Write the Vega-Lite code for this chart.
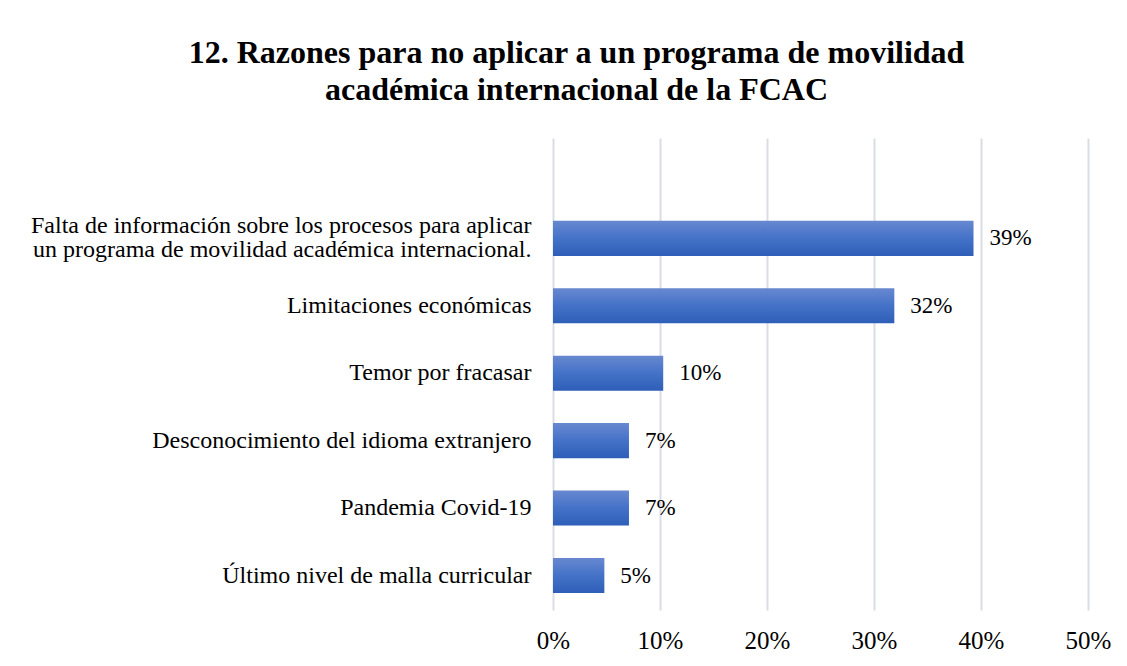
{
  "$schema": "https://vega.github.io/schema/vega-lite/v6.json",
  "autosize": "none",
  "width": 535,
  "height": 472,
  "padding": {"left": 553, "top": 138, "right": 39, "bottom": 56},
  "background": "white",
  "config": {"font": "Liberation Serif", "view": {"stroke": null}},
  "title": {
    "text": ["12. Razones para no aplicar a un programa de movilidad", "académica internacional de la FCAC"],
    "font": "Liberation Serif",
    "fontSize": 32,
    "fontWeight": "bold",
    "lineHeight": 37,
    "color": "#000000",
    "anchor": "middle",
    "frame": "group",
    "dx": -244,
    "offset": 31
  },
  "data": {
    "values": [
      {"razon": "Falta de información sobre los procesos para aplicar|un programa de movilidad académica internacional.", "pct": 0.393},
      {"razon": "Limitaciones económicas", "pct": 0.319},
      {"razon": "Temor por fracasar", "pct": 0.103},
      {"razon": "Desconocimiento del idioma extranjero", "pct": 0.071},
      {"razon": "Pandemia Covid-19", "pct": 0.071},
      {"razon": "Último nivel de malla curricular", "pct": 0.048}
    ]
  },
  "encoding": {
    "y": {
      "field": "razon",
      "type": "nominal",
      "sort": null,
      "title": null,
      "scale": {"paddingInner": 0.48, "paddingOuter": 0.74, "align": 0.83},
      "axis": {
        "labelExpr": "split(datum.value, '|')",
        "labelFontSize": 24,
        "labelFont": "Liberation Serif",
        "labelColor": "#000000",
        "labelPadding": 22,
        "labelLineHeight": 24,
        "labelLimit": 0,
        "labelOffset": {"condition": {"test": "indexof(datum.value, '|') >= 0", "value": -12}, "value": 0},
        "ticks": false,
        "domain": false
      }
    },
    "x": {
      "field": "pct",
      "type": "quantitative",
      "title": null,
      "scale": {"domain": [0, 0.5], "nice": false},
      "axis": {
        "format": ".0%",
        "values": [0, 0.1, 0.2, 0.3, 0.4, 0.5],
        "grid": true,
        "gridColor": "#d9dde6",
        "gridWidth": 2,
        "labelFontSize": 25,
        "labelFont": "Liberation Serif",
        "labelColor": "#000000",
        "labelPadding": 18,
        "labelFlush": false,
        "labelOverlap": false,
        "ticks": false,
        "domain": false
      }
    }
  },
  "layer": [
    {
      "mark": {
        "type": "bar",
        "color": {
          "gradient": "linear",
          "x1": 0, "y1": 0, "x2": 0, "y2": 1,
          "stops": [
            {"offset": 0, "color": "#6888d0"},
            {"offset": 0.5, "color": "#4472c8"},
            {"offset": 1, "color": "#2e5eb8"}
          ]
        }
      }
    },
    {
      "mark": {"type": "text", "align": "left", "dx": 16, "fontSize": 23, "font": "Liberation Serif", "color": "#000000"},
      "encoding": {"text": {"field": "pct", "type": "quantitative", "format": ".0%"}}
    }
  ]
}
